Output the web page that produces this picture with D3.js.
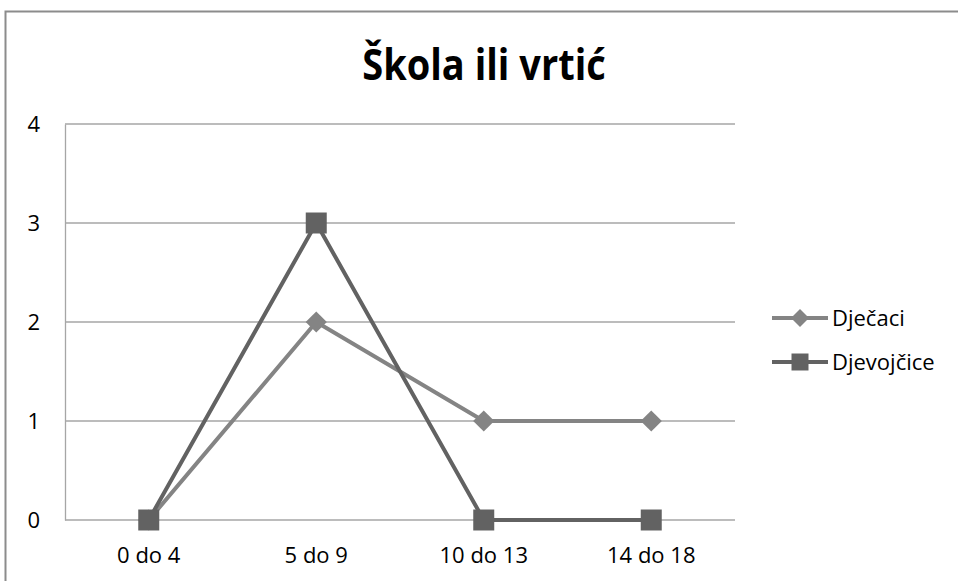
<!DOCTYPE html>
<html>
<head>
<meta charset="utf-8">
<script src="https://cdn.jsdelivr.net/npm/d3@7"></script>
<style>
  body { margin: 0; background: #fff; }
  svg { display: block; font-family: "Open Sans", "Liberation Sans", sans-serif; }
</style>
</head>
<body>
<div id="chart"></div>
<script>
const categories = ["0 do 4", "5 do 9", "10 do 13", "14 do 18"];
const djecaci = [0, 2, 1, 1];
const djevojcice = [0, 3, 0, 0];
const yTicks = [0, 1, 2, 3, 4];

const width = 958, height = 581;
const plotLeft = 65, plotRight = 735, plotTop = 124, plotBottom = 520;

const svg = d3.select("#chart").append("svg")
  .attr("width", width)
  .attr("height", height);

// outer chart border
svg.append("rect")
  .attr("x", 5.5).attr("y", 11.5)
  .attr("width", 960).attr("height", 600)
  .attr("fill", "none")
  .attr("stroke", "#8c8c8c")
  .attr("stroke-width", 2);

// title, slightly stretched vertically like the original
svg.append("text")
  .attr("transform", "translate(484,80) scale(1,1.15)")
  .attr("text-anchor", "middle")
  .attr("font-size", 38)
  .attr("font-weight", "bold")
  .attr("fill", "#000")
  .text("Škola ili vrtić");

const x = d3.scaleBand().domain(categories).range([plotLeft, plotRight]);
const y = d3.scaleLinear().domain([0, 4]).range([plotBottom, plotTop]);

// gridlines
svg.append("g")
  .selectAll("line")
  .data(yTicks)
  .enter().append("line")
  .attr("x1", plotLeft).attr("x2", plotRight)
  .attr("y1", d => y(d)).attr("y2", d => y(d))
  .attr("stroke", "#a6a6a6")
  .attr("stroke-width", 1.3);

// y axis
const yAxis = svg.append("g")
  .attr("transform", "translate(" + plotLeft + ",0)")
  .call(d3.axisLeft(y).tickValues(yTicks).tickSize(0).tickPadding(25).tickFormat(d3.format("d")));
yAxis.attr("font-family", null).attr("font-size", 22);
yAxis.select(".domain").attr("stroke", "#a6a6a6").attr("stroke-width", 1.3);
yAxis.selectAll("text").attr("fill", "#000").attr("dy", "0.36em");

// x axis labels
const xAxis = svg.append("g")
  .attr("transform", "translate(0," + plotBottom + ")")
  .call(d3.axisBottom(x).tickSize(0).tickPadding(27));
xAxis.attr("font-family", null).attr("font-size", 22);
xAxis.select(".domain").remove();
xAxis.selectAll("text").attr("fill", "#000");

const cx = d => x(d) + x.bandwidth() / 2;

const series = [
  { name: "Dječaci", values: djecaci, color: "#848484", size: 225, legendSize: 162, rotate: 45 },
  { name: "Djevojčice", values: djevojcice, color: "#626262", size: 441, legendSize: 289, rotate: 0 }
];

const line = d3.line()
  .x((d, i) => cx(categories[i]))
  .y(d => y(d));

series.forEach(s => {
  svg.append("path")
    .datum(s.values)
    .attr("d", line)
    .attr("fill", "none")
    .attr("stroke", s.color)
    .attr("stroke-width", 4)
    .attr("stroke-linejoin", "round");

  svg.append("g")
    .selectAll("path")
    .data(s.values)
    .enter().append("path")
    .attr("transform", (d, i) => "translate(" + cx(categories[i]) + "," + y(d) + ") rotate(" + s.rotate + ")")
    .attr("d", d3.symbol().type(d3.symbolSquare).size(s.size))
    .attr("fill", s.color);
});

// legend
const legend = svg.append("g");
series.forEach((s, i) => {
  const ly = 318 + i * 44;
  legend.append("line")
    .attr("x1", 772).attr("x2", 828)
    .attr("y1", ly).attr("y2", ly)
    .attr("stroke", s.color)
    .attr("stroke-width", 4);
  legend.append("path")
    .attr("transform", "translate(800," + ly + ") rotate(" + s.rotate + ")")
    .attr("d", d3.symbol().type(d3.symbolSquare).size(s.legendSize))
    .attr("fill", s.color);
  legend.append("text")
    .attr("x", 832).attr("y", ly + 8)
    .attr("font-size", 22)
    .attr("fill", "#000")
    .text(s.name);
});
</script>
</body>
</html>
